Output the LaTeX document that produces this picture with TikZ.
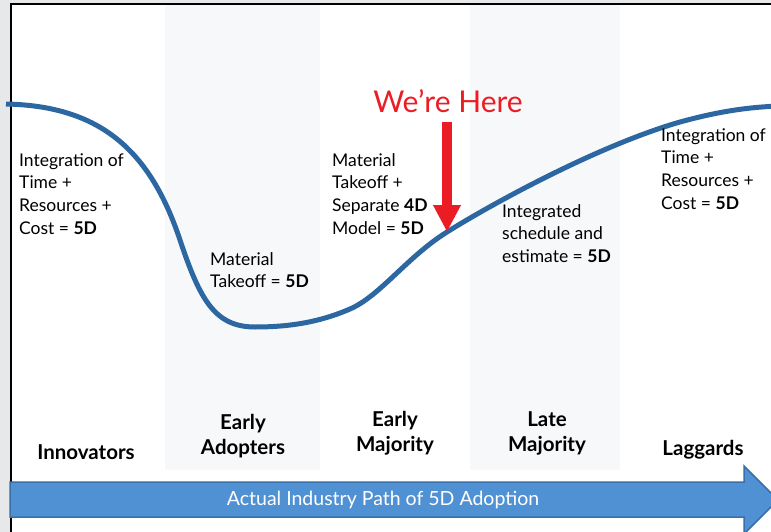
\documentclass[tikz,border=0pt]{standalone}
\usepackage{fontspec}
\setmainfont{Lato}
\usetikzlibrary{arrows.meta}
\definecolor{curveblue}{HTML}{2C67A2}
\definecolor{herered}{HTML}{EC1C24}
\definecolor{arrowfill}{HTML}{4F91D3}
\definecolor{arrowedge}{HTML}{3A70AA}
\definecolor{framegray}{HTML}{E7E8EA}
\definecolor{bandgray}{HTML}{F7F8F9}
\tikzset{
  note/.style={align=left, anchor=north west, inner sep=0pt, font=\fontsize{17.5}{22.7}\selectfont, text=black},
  stage/.style={align=center, inner sep=0pt, font=\fontsize{20.5}{25}\selectfont\bfseries, text=black},
}
\begin{document}
\begin{tikzpicture}[x=1pt,y=-1pt]
\useasboundingbox (0,0) rectangle (771,532);
% background
\fill[framegray] (0,0) rectangle (771,532);
\fill[white] (12,5) rectangle (771,532);
\fill[bandgray] (165,5) rectangle (320,470);
\fill[bandgray] (470,5) rectangle (620,470);
\draw[black, line width=2pt] (11,540) -- (11,4) -- (780,4);
% curve
\draw[curveblue, line width=5pt] (6,104)
  .. controls (100,106) and (150,150) .. (180,240)
  .. controls (200,300) and (215,327) .. (255,327)
  .. controls (290,327) and (320,322) .. (350,309)
  .. controls (380,296) and (407,257) .. (447,232)
  .. controls (495,202) and (600,145) .. (680,122)
  .. controls (720,111) and (750,107) .. (780,106);
% annotations
\node[note] (n1) at (19,153) {Integration of\\Time +\\Resources +\\Cost = \textbf{5D}};
\node[note] (n2) at (210,252) {Material\\Takeoff = \textbf{5D}};
\node[note] (n3) at (332,153) {Material\\Takeoff +\\Separate \textbf{4D}\\Model = \textbf{5D}};
\node[note] (n4) at (502,204) {Integrated\\schedule and\\estimate = \textbf{5D}};
\node[note] (n5) at (661,128) {Integration of\\Time +\\Resources +\\Cost = \textbf{5D}};
% We're here
\node[text=herered, inner sep=0pt, font=\fontsize{30}{30}\selectfont] (here) at (448,101) {We’re Here};
\coordinate (rtop) at (447,122);
\coordinate (rtip) at (447,232);
\draw[herered, line width=10pt, -{Triangle[width=26pt,length=27pt]}] (rtop) -- (rtip);
% stages
\node[stage] (s1) at (86,452) {Innovators};
\node[stage] (s2) at (243,436) {Early\\Adopters};
\node[stage] (s3) at (395,433) {Early\\Majority};
\node[stage] (s4) at (547,433) {Late\\Majority};
\node[stage] (s5) at (703,450) {Laggards};
% big arrow
\filldraw[fill=arrowfill, draw=arrowedge, line width=1.5pt]
  (10,482) -- (744,482) -- (744,466) -- (778,500) -- (744,534) -- (744,517) -- (10,517) -- cycle;
\node[text=white, inner sep=0pt, font=\fontsize{19.5}{19.5}\selectfont] (path) at (383,500) {Actual Industry Path of 5D Adoption};
\end{tikzpicture}
\end{document}
